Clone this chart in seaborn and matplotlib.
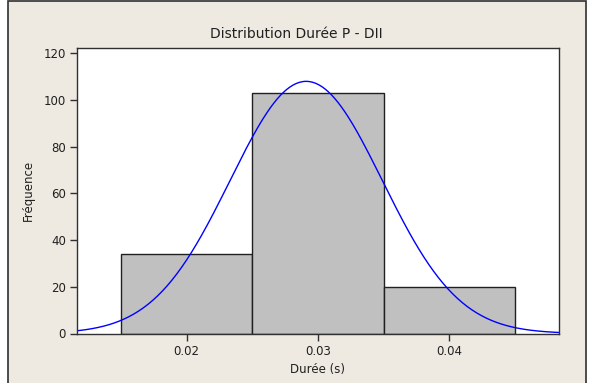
import numpy as np
import pandas as pd
import matplotlib
matplotlib.use("Agg")
import matplotlib.pyplot as plt
from matplotlib.patches import Rectangle
import seaborn as sns

# Data
bin_edges = [0.015, 0.025, 0.035, 0.045]
bin_counts = [34, 103, 20]
fit_mean = 0.0291
fit_sd = 0.0058
x_ticks = [0.02, 0.03, 0.04]
y_ticks = [0, 20, 40, 60, 80, 100, 120]
title = "Distribution Durée P - DII"
x_label = "Durée (s)"
y_label = "Fréquence"

sns.set_style("white")
plt.rcParams['font.family'] = ['DejaVu Sans']

fig = plt.figure(figsize=(6.03, 3.83), dpi=100, facecolor="white")
W, H = 603, 383
# beige panel frame
fig.patches.append(Rectangle((7.5 / W, -0.01), (586 - 7.5) / W, 1.01 - 1.5 / H,
                             transform=fig.transFigure, facecolor="#EEEAE1",
                             edgecolor="#303030", linewidth=1.2, zorder=-10))

ax = fig.add_axes([77 / W, 1 - 333.5 / H, (559 - 77) / W, (333.5 - 47.7) / H])
ax.set_zorder(5)
ax.set_facecolor("white")

centers = [(bin_edges[i] + bin_edges[i + 1]) / 2 for i in range(len(bin_counts))]
df = pd.DataFrame({"duree": centers, "count": bin_counts})
sns.histplot(data=df, x="duree", weights="count", bins=bin_edges, ax=ax,
             color="#C0C0C0", edgecolor="#202020", linewidth=1.0, alpha=1.0)

xlo, xhi = 0.01165, 0.04835
n_total = sum(bin_counts)
bw = bin_edges[1] - bin_edges[0]
xs = np.linspace(xlo, xhi, 300)
ys = n_total * bw / (fit_sd * np.sqrt(2 * np.pi)) * np.exp(-0.5 * ((xs - fit_mean) / fit_sd) ** 2)
sns.lineplot(x=xs, y=ys, ax=ax, color="#0000FF", linewidth=1.0)

ax.set_xlim(xlo, xhi)
ax.set_ylim(0, 122.4)
ax.set_xticks(x_ticks)
ax.set_xticklabels([f"{v:.2f}" for v in x_ticks])
ax.set_yticks(y_ticks)
ax.tick_params(axis="both", which="both", direction="out", length=5, width=1,
               color="#303030", labelsize=8.5, labelcolor="#202020", pad=3,
               bottom=True, left=True)
for s in ax.spines.values():
    s.set_color("#303030")
    s.set_linewidth(1.0)
    s.set_visible(True)

ax.set_xlabel(x_label, fontsize=8.5, color="#202020", labelpad=4)
ax.set_ylabel(y_label, fontsize=8.5, color="#202020", labelpad=6)
fig.text(296 / W, 1 - 34 / H, title, ha="center", va="center", fontsize=10, color="#202020")

fig.savefig("out.png", dpi=100, facecolor=fig.get_facecolor())
